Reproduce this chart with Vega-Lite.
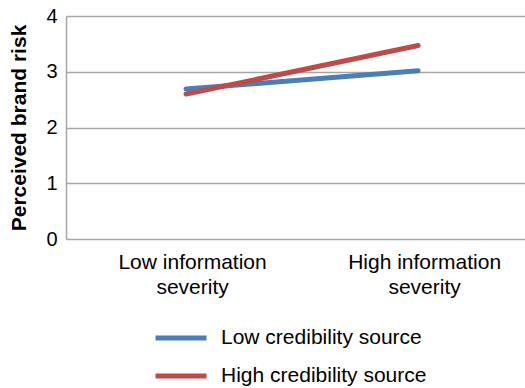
{
  "$schema": "https://vega.github.io/schema/vega-lite/v6.json",
  "autosize": "none",
  "width": 459,
  "height": 223,
  "padding": {"left": 66, "top": 16, "right": 0, "bottom": 149},
  "background": "white",
  "config": {
    "font": "Liberation Sans",
    "view": {"stroke": null}
  },
  "data": {
    "values": [
      {"severity": "Low information severity", "source": "Low credibility source", "risk": 2.69},
      {"severity": "High information severity", "source": "Low credibility source", "risk": 3.02},
      {"severity": "Low information severity", "source": "High credibility source", "risk": 2.60},
      {"severity": "High information severity", "source": "High credibility source", "risk": 3.47}
    ]
  },
  "mark": {"type": "line", "strokeWidth": 5, "strokeCap": "round"},
  "encoding": {
    "x": {
      "field": "severity",
      "type": "ordinal",
      "sort": ["Low information severity", "High information severity"],
      "scale": {"type": "point", "padding": 0.489, "align": 0.529},
      "axis": {
        "title": null,
        "labelAngle": 0,
        "labelFontSize": 21,
        "labelColor": "#000000",
        "labelLineHeight": 25,
        "labelPadding": 12,
        "labelOffset": 6,
        "labelLimit": 300,
        "ticks": false,
        "domain": false,
        "grid": false,
        "labelExpr": "datum.value == 'Low information severity' ? ['Low information', 'severity'] : ['High information', 'severity']"
      }
    },
    "y": {
      "field": "risk",
      "type": "quantitative",
      "scale": {"domain": [0, 4]},
      "axis": {
        "title": "Perceived brand risk",
        "titleFontSize": 21,
        "titleFontWeight": "bold",
        "titleColor": "#000000",
        "titlePadding": 16,
        "values": [0, 1, 2, 3, 4],
        "labelFontSize": 20,
        "labelColor": "#000000",
        "labelPadding": 9,
        "ticks": false,
        "domainColor": "#a6a6a6",
        "domainWidth": 1.5,
        "gridColor": "#a6a6a6",
        "gridWidth": 1.5,
        "gridOpacity": 1
      }
    },
    "color": {
      "field": "source",
      "type": "nominal",
      "sort": ["Low credibility source", "High credibility source"],
      "scale": {"range": ["#4a7ebb", "#be4b48"]},
      "legend": {
        "title": null,
        "orient": "none",
        "legendX": 87,
        "legendY": 310,
        "symbolType": "stroke",
        "symbolSize": 2601,
        "symbolStrokeWidth": 5,
        "labelFontSize": 21,
        "labelColor": "#000000",
        "labelOffset": 12,
        "labelLimit": 400,
        "clipHeight": 24,
        "rowPadding": 14
      }
    }
  }
}
